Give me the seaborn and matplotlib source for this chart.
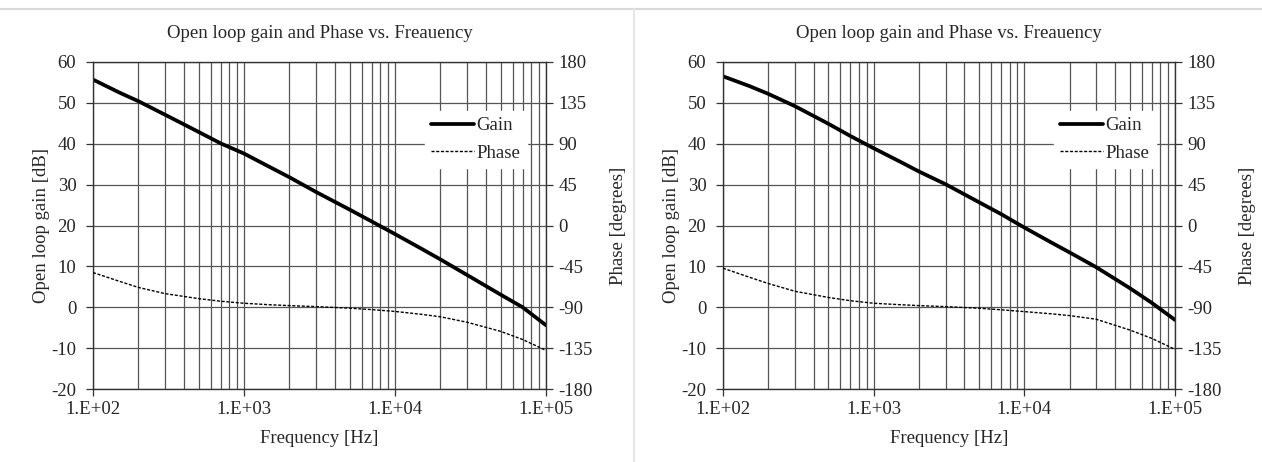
import numpy as np
import pandas as pd
import matplotlib
matplotlib.use("Agg")
import matplotlib.pyplot as plt
import seaborn as sns
from matplotlib.lines import Line2D

sns.set_theme(style="white")
plt.rcParams['font.family'] = ['Liberation Serif', 'DejaVu Serif']
plt.rcParams['axes.unicode_minus'] = False

freq = [100, 150, 200, 300, 500, 700, 1000, 1500, 2000, 3000, 5000, 7000,
        10000, 15000, 20000, 30000, 50000, 70000, 100000]

gain_left = [55.7, 52.5, 50.4, 47.1, 42.9, 40.1, 37.6, 34.2, 31.8, 28.2, 23.9, 21.0,
             17.9, 14.3, 11.7, 7.9, 3.1, 0.0, -4.4]
phase_left = [-51.8, -61.5, -68.2, -75.0, -80.5, -83.4, -85.6, -87.3, -88.2, -89.3, -91.0, -92.6,
              -94.6, -97.8, -100.5, -106.5, -116.5, -125.5, -137.5]

gain_right = [56.5, 54.1, 52.2, 49.2, 44.9, 41.9, 38.9, 35.6, 33.2, 30.1, 25.7, 22.8,
              19.5, 15.9, 13.4, 9.8, 4.7, 1.1, -3.1]
phase_right = [-47.0, -57.0, -63.9, -72.4, -79.2, -82.8, -85.6, -87.2, -88.2, -89.3, -91.1, -92.8,
               -94.8, -97.2, -99.2, -103.2, -115.0, -124.2, -136.4]

title = "Open loop gain and Phase vs. Freauency"
xlabel = "Frequency [Hz]"
ylabel_left = "Open loop gain [dB]"
ylabel_right = "Phase [degrees]"
gain_ticks = [-20, -10, 0, 10, 20, 30, 40, 50, 60]
phase_ticks = [-180, -135, -90, -45, 0, 45, 90, 135, 180]
x_ticks = [1e2, 1e3, 1e4, 1e5]
x_ticklabels = ["1.E+02", "1.E+03", "1.E+04", "1.E+05"]

W, H = 1262, 462
fig = plt.figure(figsize=(W / 100, H / 100), dpi=100)
fig.patch.set_facecolor("white")

# decorative separators
fig.add_artist(Line2D([0, 1], [1 - 9 / H, 1 - 9 / H], transform=fig.transFigure, color="#d8d8d8", lw=1.5))
fig.add_artist(Line2D([634 / W, 634 / W], [0, 1 - 9 / H], transform=fig.transFigure, color="#e6e6e6", lw=1.5))

FS = 13.5
grid_c = "#555555"


def panel(left_px, right_px, gain, phase):
    top_px, bot_px = 62, 389
    ax = fig.add_axes([left_px / W, (H - bot_px) / H, (right_px - left_px) / W, (bot_px - top_px) / H])
    df = pd.DataFrame({"f": freq, "gain": gain, "phase": phase})
    sns.lineplot(data=df, x="f", y="gain", ax=ax, color="black", lw=2.7, label="Gain", legend=False)
    ax.set_xscale("log")
    ax.set_xlim(1e2, 1e5)
    ax.set_ylim(-20, 60)
    ax.set_yticks(gain_ticks)
    ax.set_xticks(x_ticks)
    ax.set_xticklabels(x_ticklabels)
    ax.xaxis.set_minor_locator(matplotlib.ticker.LogLocator(base=10, subs=np.arange(2, 10)))
    ax.xaxis.set_minor_formatter(matplotlib.ticker.NullFormatter())
    ax.grid(True, which="both", axis="x", color=grid_c, lw=0.9)
    ax.grid(True, which="major", axis="y", color=grid_c, lw=0.9)
    ax.set_axisbelow(True)
    for s in ax.spines.values():
        s.set_color("#333333")
        s.set_linewidth(1.0)
    ax.tick_params(axis="both", which="major", length=5, width=0.9, color="#333333", labelsize=FS, pad=4, direction="out")
    ax.tick_params(axis="y", pad=7)
    ax.tick_params(axis="x", which="minor", length=0)
    ax.tick_params(left=True, bottom=True)
    ax.set_xlabel(xlabel, fontsize=FS, labelpad=8)
    ax.set_ylabel(ylabel_left, fontsize=FS, labelpad=1)
    ax.set_title(title, fontsize=FS, pad=17)

    ax2 = ax.twinx()
    sns.lineplot(data=df, x="f", y="phase", ax=ax2, color="black", lw=1.0, linestyle=(0, (2.2, 1.2)), label="Phase", legend=False)
    ax2.set_ylim(-180, 180)
    ax2.set_yticks(phase_ticks)
    ax2.grid(False)
    ax2.tick_params(axis="y", length=5, width=0.9, color="#333333", labelsize=FS, pad=4, right=True)
    ax2.set_ylabel(ylabel_right, fontsize=FS, labelpad=12)
    for s in ax2.spines.values():
        s.set_visible(False)

    h1, l1 = ax.get_legend_handles_labels()
    h2, l2 = ax2.get_legend_handles_labels()
    leg = ax2.legend(h1 + h2, l1 + l2, loc="upper right", bbox_to_anchor=(0.978, 0.88),
                     frameon=True, fontsize=FS, handlelength=2.3, handletextpad=0.1,
                     borderpad=0.35, labelspacing=0.55)
    leg.get_frame().set_facecolor("white")
    leg.get_frame().set_edgecolor("white")
    leg.get_frame().set_alpha(1.0)
    leg.get_frame().set_boxstyle("square", pad=0)
    return ax, ax2


panel(93, 546, gain_left, phase_left)
panel(723, 1175, gain_right, phase_right)

fig.savefig("out.png", dpi=100, facecolor="white")
